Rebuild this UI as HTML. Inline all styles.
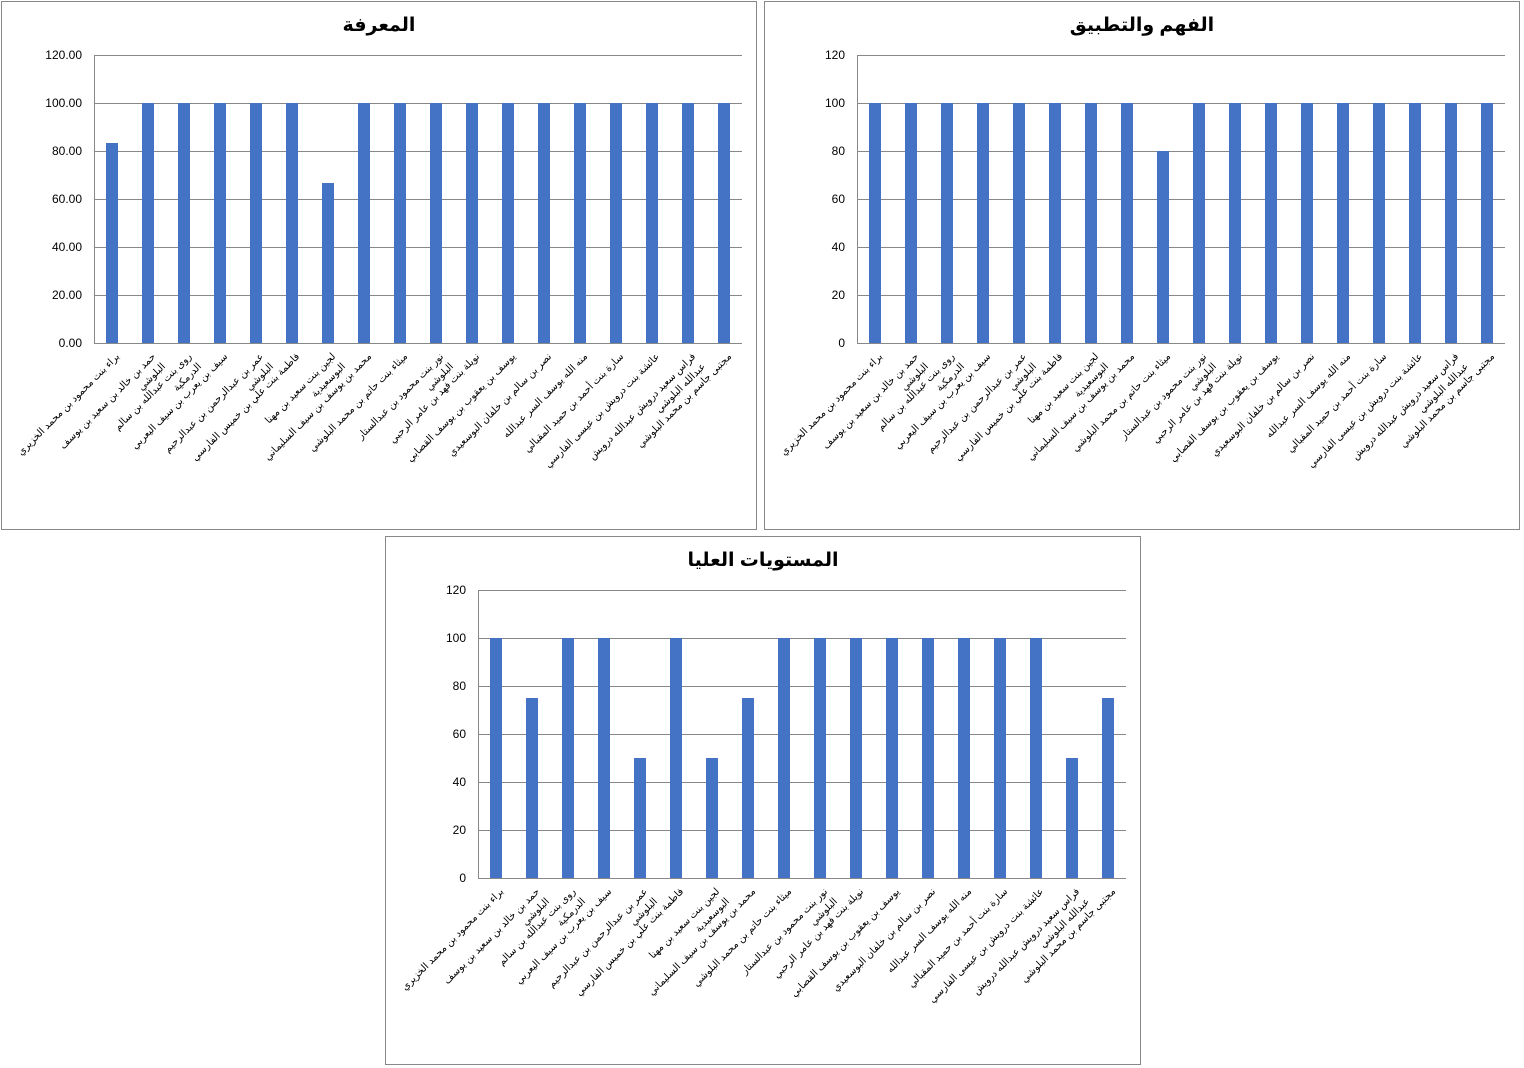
<!DOCTYPE html>
<html><head><meta charset="utf-8"><style>
body{margin:0;background:#fff;width:1524px;height:1068px;overflow:hidden}
svg{position:absolute;left:0;top:0}
text{font-family:"Liberation Sans","DejaVu Sans",sans-serif}
</style></head><body>
<svg id="s" width="1524" height="1068"></svg>
<script>
const categories=["براء بنت محمود بن محمد الخزيري","حمد بن خالد بن سعيد بن يوسف البلوشي","روى بنت عبدالله بن سالم الدرمكية","سيف بن يعرب بن سيف اليعربي","عمر بن عبدالرحمن بن عبدالرحيم البلوشي","فاطمة بنت علي بن خميس الفارسي","لجين بنت سعيد بن مهنا البوسعيدية","محمد بن يوسف بن سيف السليماني","ميثاء بنت حاتم بن محمد البلوشي","نور بنت محمود بن عبدالستار البلوشي","نويلة بنت فهد بن عامر الرحبي","يوسف بن يعقوب بن يوسف القصابي","نصر بن سالم بن خلفان البوسعيدي","منه الله يوسف السر عبدالله","سارة بنت أحمد بن حميد المقبالي","عائشة بنت درويش بن عيسى الفارسي","فراس سعيد درويش عبدالله درويش عبدالله البلوشي","مجتبى جاسم بن محمد البلوشي"];
const knowledgeValues=[83.33,100,100,100,100,100,66.67,100,100,100,100,100,100,100,100,100,100,100];
const applicationValues=[100,100,100,100,100,100,100,100,80,100,100,100,100,100,100,100,100,100];
const higherValues=[100,75,100,100,50,100,50,75,100,100,100,100,100,100,100,100,50,75];
const ticks1=["0.00","20.00","40.00","60.00","80.00","100.00","120.00"];
const ticks2=["0","20","40","60","80","100","120"];
const NS="http://www.w3.org/2000/svg";
const svg=document.getElementById('s');
function el(t,a,p){const e=document.createElementNS(NS,t);for(const k in a)e.setAttribute(k,a[k]);(p||svg).appendChild(e);return e;}
function wrap(s){const w=s.split(' ');const lines=[];let cur='';w.forEach(x=>{if(cur&&(cur+' '+x).length>31){lines.push(cur);cur=x;}else cur=cur?cur+' '+x:x;});lines.push(cur);return lines;}
function chart(bx,by,title,vals,ticks,name){
  const g=el('g',{});
  
  
  const box=el('rect',{x:bx+0.5,y:by+0.5,width:755,height:528,fill:'#fff',stroke:'#888'},g);
  
  
  const t=el('text',{x:bx+378,y:by+30,'text-anchor':'middle','font-size':19,'font-weight':'bold',fill:'#000'},g);
  t.textContent=title;
  
  
  const L=bx+93,R=bx+741,T=by+54,B=by+342;
  const y=v=>B-(v/120)*(B-T);
  const cw=(R-L)/vals.length;
  ticks.forEach((tk,i)=>{
    const v=i*20;
    const ln=el('line',{x1:L,x2:R,y1:y(v)+0.5,y2:y(v)+0.5,stroke:'#888'},g);
    
    
    const tx=el('text',{x:L-12,y:y(v)+4,'text-anchor':'end','font-size':12,fill:'#000'},g);
    tx.textContent=tk;
    
    
  });
  el('line',{x1:L+0.5,x2:L+0.5,y1:T,y2:B,stroke:'#888'},g);
  vals.forEach((v,i)=>{
    const cx=L+cw*(i+0.5);
    const r=el('rect',{x:cx-6,y:y(v),width:12,height:B-y(v),fill:'#4472C4'},g);
    
    
    const lb=el('text',{x:0,y:0,'text-anchor':'end','font-size':10,fill:'#000',transform:`translate(${cx+8},${B+14}) rotate(-45)`},g);
    
    
    wrap(categories[i]).forEach((ln,j)=>{
      const ts=el('tspan',{x:0,y:j*14},lb);
      ts.textContent=ln;
    });
  });
}
chart(1,1,"المعرفة",knowledgeValues,ticks1,'knowledge-chart');
chart(764,1,"الفهم والتطبيق",applicationValues,ticks2,'application-chart');
chart(385,536,"المستويات العليا",higherValues,ticks2,'higher-levels-chart');
</script>
</body></html>
